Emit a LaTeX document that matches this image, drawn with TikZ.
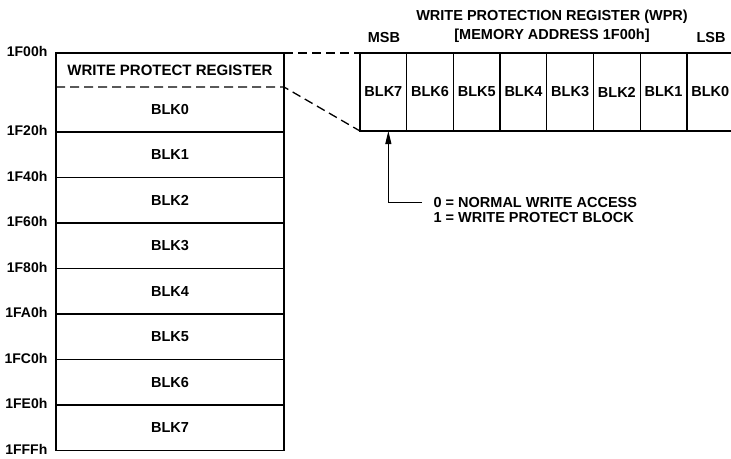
\documentclass[tikz,border=0pt]{standalone}
\usepackage{fontspec}
\setmainfont{Liberation Sans}
\usetikzlibrary{arrows.meta}

\begin{document}
\begin{tikzpicture}[
  x=1pt, y=-1pt,
  line width=1.3pt,
  txt/.style={inner sep=0pt, font=\bfseries\fontsize{14.5}{15}\selectfont},
  blk/.style={txt, draw, rectangle, outer sep=0pt, minimum width=228pt, minimum height=45.5pt},
  bit/.style={txt, draw, rectangle, outer sep=0pt, minimum width=46.7pt, minimum height=78pt},
  addr/.style={txt, anchor=east, font=\bfseries\fontsize{14}{15}\selectfont},
  dashline/.style={dash pattern=on 9pt off 5pt}
]
\useasboundingbox (0,0) rectangle (731,458);

% Left: memory map 1F00h - 1FFFh
\node[blk, minimum height=79pt] (page0) at (170,92.5) {};
\node[txt, font=\bfseries\fontsize{15}{16}\selectfont] (wpr) at (170,70) {WRITE PROTECT REGISTER};
\node[txt] (blk0) at (170,109.5) {BLK0};
\node[blk] (blk1) at (170,154.75) {BLK1};
\node[blk] (blk2) at (170,200.25) {BLK2};
\node[blk] (blk3) at (170,245.75) {BLK3};
\node[blk] (blk4) at (170,291.25) {BLK4};
\node[blk] (blk5) at (170,336.75) {BLK5};
\node[blk] (blk6) at (170,382.25) {BLK6};
\node[blk] (blk7) at (170,427.75) {BLK7};
\coordinate (sepl) at (56,87);
\coordinate (sepr) at (284,87);

% addresses
\node[addr] (a0) at (48,51.5) {1F00h};
\node[addr] (a1) at (48,130.5) {1F20h};
\node[addr] (a2) at (48,176) {1F40h};
\node[addr] (a3) at (48,221.5) {1F60h};
\node[addr] (a4) at (48,267) {1F80h};
\node[addr] (a5) at (48,312.5) {1FA0h};
\node[addr] (a6) at (48,358) {1FC0h};
\node[addr] (a7) at (48,403.5) {1FE0h};
\node[addr] (a8) at (48,449) {1FFFh};

% Right: the register, MSB first
\node[bit] (bit7) at (383.35,92) {BLK7};
\node[bit] (bit6) at (430.05,92) {BLK6};
\node[bit] (bit5) at (476.75,92) {BLK5};
\node[bit] (bit4) at (523.45,92) {BLK4};
\node[bit] (bit3) at (570.15,92) {BLK3};
\node[bit] (bit2) at (616.85,92) {BLK2};
\node[bit] (bit1) at (663.55,92) {BLK1};
\node[bit] (bit0) at (710.25,92) {BLK0};
\node[txt, anchor=base] (title) at (552,20) {WRITE PROTECTION REGISTER (WPR)};
\node[txt, anchor=base] (maddr) at (552,39) {[MEMORY ADDRESS 1F00h]};
\node[txt, anchor=base] (msb) at (384,42) {MSB};
\node[txt, anchor=base] (lsb) at (711,42) {LSB};

% zoom lines
\draw[dashline] (page0.north east) -- (bit7.north west);
\draw[dashline] (sepl) -- (sepr) -- (bit7.south west);

% bit meaning
\node[txt, anchor=base west, align=left] (legend) at (433,222)
  {0 = NORMAL WRITE ACCESS\\1 = WRITE PROTECT BLOCK};
\coordinate (tail) at (422,202);
\draw[line width=1pt, -{Triangle[length=13pt,width=6pt]}] (tail) -| ([xshift=5pt]bit7.south);
\end{tikzpicture}
\end{document}
